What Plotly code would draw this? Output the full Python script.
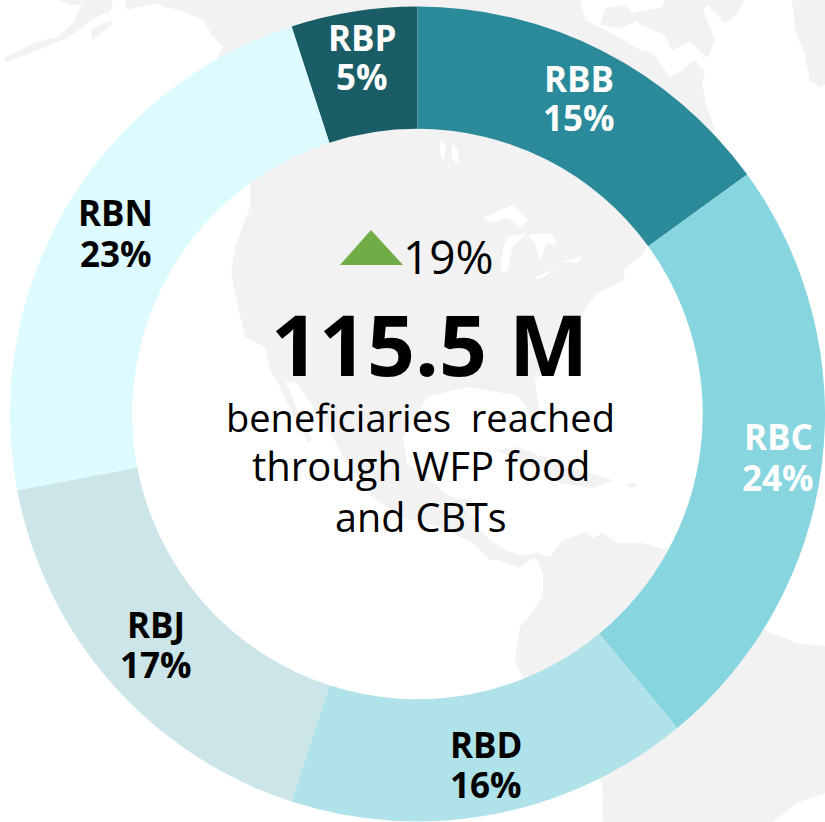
import plotly.graph_objects as go

W, H = 825, 822

# ---- data ----
regions = ["RBP", "RBB", "RBC", "RBD", "RBJ", "RBN"]
shares = [5, 15, 24, 16, 17, 23]
slice_colors = ["#1B5D66", "#2A8A99", "#87D5DF", "#AFE2E9", "#CBE5E9", "#DDFBFF"]
label_colors = ["white", "white", "white", "black", "black", "black"]
change_text = "19%"
total_text = "115.5 M"
desc_lines = ["beneficiaries  reached", "through WFP food", "and CBTs"]

# ---- label placement (pixels from top-left) ----
label_xy = {"RBP": (362, 57), "RBB": (579, 98), "RBC": (778, 457),
            "RBD": (486, 764), "RBJ": (156, 644), "RBN": (116, 233)}

# ---- faint background map outlines (pixels), decoration only ----
LAND = "#F2F2F2"
land = [
    # North & Central & South America
    [(127,10),(157,3),(163,7),(180,10),(203,20),(213,37),(223,47),(218,57),(230,120),(250,183),
     (250,207),(235,247),(231,273),(237,302),(245,337),(265,347),(270,370),(279,385),(283,395),
     (308,443),(312,440),(295,405),(286,381),(297,383),(327,427),(347,463),(373,497),(400,517),
     (440,527),(473,543),(490,560),(497,560),(520,568),(532,558),(537,560),(543,573),(543,597),
     (520,627),(517,647),(515,663),(523,677),(570,760),(602,782),(603,822),(773,822),(797,803),
     (825,793),(825,646),(795,643),(790,640),(768,632),(700,590),(667,550),(643,543),(617,543),
     (603,533),(593,538),(587,532),(563,540),(550,557),(537,553),(520,555),(505,550),(490,540),
     (480,530),(470,512),(473,500),(450,497),(430,480),(407,463),(403,437),(427,397),(467,387),
     (515,395),(525,405),(533,425),(540,420),(535,380),(555,360),(580,327),(583,313),(597,293),
     (625,280),(623,270),(640,257),(680,200),(640,50),(610,32),(585,20),(580,0),(125,0)],
    # Alaska peninsula
    [(4,58),(17,52),(33,43),(57,37),(73,23),(82,5),(70,5),(57,0),(113,0),(110,12),(100,15),
     (67,38),(33,52),(7,62)],
    # Kodiak
    [(90,30),(110,20),(113,23),(93,40)],
    # Arctic island
    [(605,8),(625,5),(638,20),(620,28),(600,25)],
    # Baffin
    [(633,13),(662,7),(665,0),(745,0),(738,12),(725,24),(708,5),(703,10),(715,40),(708,58),
     (690,42),(672,50),(665,35),(640,25)],
    # Labrador / Quebec
    [(625,47),(652,53),(670,77),(680,72),(695,60),(705,72),(702,82),(706,105),(715,130),
     (650,200),(600,100)],
    # Greenland
    [(792,0),(795,30),(805,55),(810,80),(820,87),(825,85),(825,0)],
    # Cuba / Hispaniola
    [(497,450),(517,447),(543,457),(580,470),(613,480),(593,488),(560,483),(540,470),(510,457)],
    # Puerto Rico
    [(625,484),(635,483),(637,486),(630,488)],
]
water = [
    [(483,218),(513,205),(528,220),(520,227),(507,217),(490,223)],
    [(507,237),(527,233),(512,247),(508,270),(500,273),(503,250)],
    [(528,235),(550,233),(558,245),(547,243),(540,260),(535,243)],
    [(532,278),(558,268),(540,279)],
    [(562,262),(583,256),(578,263)],
    [(452,143),(458,150),(458,163),(452,160)],
    [(440,141),(446,145),(444,160),(440,155)],
]


def path(points):
    return "M" + " L".join(f"{x / W:.5f},{1 - y / H:.5f}" for x, y in points) + " Z"


shapes = [dict(type="path", xref="paper", yref="paper", path=path(p), fillcolor=LAND,
               line=dict(width=0), layer="below") for p in land]
shapes += [dict(type="path", xref="paper", yref="paper", path=path(p), fillcolor="white",
                line=dict(width=0), layer="below") for p in water]
# green up-triangle
shapes.append(dict(type="path", xref="paper", yref="paper",
                   path=path([(340, 265), (371, 230), (403, 265)]),
                   fillcolor="#70AD47", line=dict(width=0), layer="above"))

FONT = "Open Sans"


def note(text, x, y, size, color="black", weight="normal"):
    return dict(text=text, x=x / W, y=1 - y / H, xref="paper", yref="paper", showarrow=False,
                xanchor="center", yanchor="middle",
                font=dict(family=FONT, size=size, color=color, weight=weight))


annotations = []
for r, s, c in zip(regions, shares, label_colors):
    x, y = label_xy[r]
    annotations.append(note(r, x, y - 20, 35, c, "bold"))
    annotations.append(note(f"{s}%", x, y + 20, 35, c, "bold"))

annotations.append(note(change_text, 449, 256, 46))
annotations.append(note(total_text, 429, 343, 84, weight="bold"))
for line, y, size in zip(desc_lines, (417, 465, 517), (38, 40, 39.5)):
    annotations.append(note(line, 421, y, size))

fig = go.Figure(go.Pie(
    labels=regions, values=shares, sort=False, direction="clockwise", rotation=-18,
    hole=0.70, textinfo="none", hoverinfo="label+percent",
    marker=dict(colors=slice_colors, line=dict(width=0)),
    domain=dict(x=[10 / W, 1], y=[0, 1 - 6 / H]),
    showlegend=False,
))
fig.update_layout(width=W, height=H, margin=dict(l=0, r=0, t=0, b=0),
                  paper_bgcolor="white", plot_bgcolor="white",
                  shapes=shapes, annotations=annotations, showlegend=False)
fig.write_html("out.html", config=dict(displayModeBar=False),
               post_script="document.body.style.margin='0';document.body.style.overflow='hidden';")
